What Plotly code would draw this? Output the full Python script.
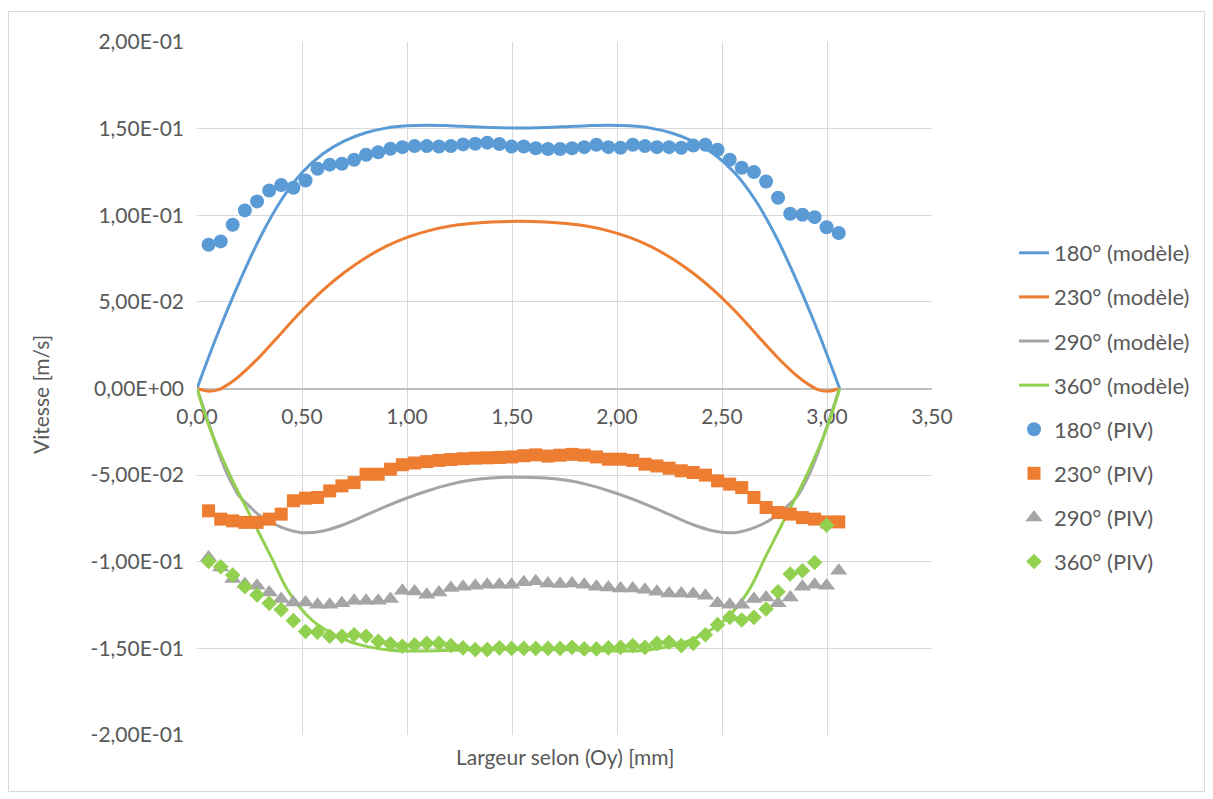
import plotly.graph_objects as go

# ---------------- data ----------------
x_piv = [0.055, 0.113, 0.170, 0.228, 0.286, 0.344, 0.401, 0.459, 0.517, 0.574,
         0.632, 0.690, 0.748, 0.805, 0.863, 0.921, 0.978, 1.036, 1.094, 1.152,
         1.209, 1.267, 1.325, 1.382, 1.440, 1.498, 1.556, 1.613, 1.671, 1.729,
         1.786, 1.844, 1.902, 1.959, 2.017, 2.075, 2.133, 2.190, 2.248, 2.306,
         2.363, 2.421, 2.479, 2.537, 2.594, 2.652, 2.710, 2.767, 2.825, 2.883,
         2.941, 2.998, 3.056]

piv_180 = [0.0830, 0.0849, 0.0945, 0.1028, 0.1080, 0.1143, 0.1174, 0.1159, 0.1201, 0.1268,
           0.1292, 0.1297, 0.1320, 0.1349, 0.1364, 0.1384, 0.1393, 0.1399, 0.1399, 0.1397,
           0.1399, 0.1409, 0.1413, 0.1419, 0.1411, 0.1397, 0.1397, 0.1387, 0.1382, 0.1382,
           0.1387, 0.1393, 0.1407, 0.1393, 0.1390, 0.1407, 0.1399, 0.1393, 0.1393, 0.1390,
           0.1403, 0.1407, 0.1378, 0.1320, 0.1274, 0.1249, 0.1195, 0.1101, 0.1009, 0.1003,
           0.0989, 0.0931, 0.0897]

piv_230 = [-0.0706, -0.0754, -0.0764, -0.0773, -0.0773, -0.0754, -0.0725, -0.0648, -0.0633, -0.0629,
           -0.0591, -0.0562, -0.0543, -0.0495, -0.0495, -0.0466, -0.0440, -0.0430, -0.0422, -0.0415,
           -0.0410, -0.0405, -0.0402, -0.0400, -0.0398, -0.0395, -0.0388, -0.0383, -0.0390, -0.0385,
           -0.0380, -0.0385, -0.0395, -0.0408, -0.0408, -0.0415, -0.0437, -0.0447, -0.0460, -0.0475,
           -0.0485, -0.0500, -0.0533, -0.0552, -0.0572, -0.0629, -0.0687, -0.0716, -0.0725, -0.0745,
           -0.0754, -0.0770, -0.0770]

piv_290 = [-0.0975, -0.1033, -0.1100, -0.1129, -0.1138, -0.1177, -0.1215, -0.1235, -0.1235, -0.1248,
           -0.1248, -0.1240, -0.1225, -0.1225, -0.1225, -0.1215, -0.1167, -0.1171, -0.1190, -0.1177,
           -0.1152, -0.1144, -0.1138, -0.1133, -0.1133, -0.1133, -0.1119, -0.1113, -0.1125, -0.1129,
           -0.1125, -0.1133, -0.1144, -0.1148, -0.1154, -0.1154, -0.1161, -0.1173, -0.1183, -0.1183,
           -0.1186, -0.1196, -0.1240, -0.1248, -0.1248, -0.1215, -0.1206, -0.1240, -0.1206, -0.1144,
           -0.1133, -0.1138, -0.1052]

x_piv_360 = x_piv[:52]
piv_360 = [-0.0998, -0.1029, -0.1077, -0.1144, -0.1192, -0.1240, -0.1277, -0.1340, -0.1403, -0.1407,
           -0.1430, -0.1430, -0.1421, -0.1430, -0.1459, -0.1474, -0.1488, -0.1480, -0.1471, -0.1471,
           -0.1484, -0.1497, -0.1507, -0.1507, -0.1497, -0.1500, -0.1500, -0.1500, -0.1500, -0.1500,
           -0.1494, -0.1503, -0.1503, -0.1497, -0.1494, -0.1484, -0.1494, -0.1471, -0.1465, -0.1484,
           -0.1471, -0.1421, -0.1363, -0.1321, -0.1336, -0.1321, -0.1273, -0.1173, -0.1071, -0.1052,
           -0.1004, -0.0789]

x_mod_180 = [0, 0.1, 0.2, 0.3, 0.4, 0.5, 0.6, 0.7, 0.8, 0.9, 1.0, 1.1, 1.2, 1.3, 1.4, 1.53,
             1.66, 1.76, 1.86, 1.96, 2.06, 2.16, 2.26, 2.36, 2.46, 2.56, 2.66, 2.76, 2.86, 2.96, 3.06]
mod_180 = [0, 0.032, 0.061, 0.087, 0.1085, 0.1245, 0.1355, 0.1428, 0.1475, 0.1503, 0.1516,
           0.1520, 0.1517, 0.1511, 0.1506, 0.1503, 0.1506, 0.1511, 0.1517, 0.1520, 0.1516,
           0.1503, 0.1475, 0.1428, 0.1355, 0.1245, 0.1085, 0.087, 0.061, 0.032, 0]

x_mod_230 = [0, 0.05, 0.1, 0.15, 0.2, 0.3, 0.4, 0.5, 0.6, 0.7, 0.8, 0.9, 1.0, 1.1, 1.2, 1.3, 1.4,
             1.53, 1.66, 1.76, 1.86, 1.96, 2.06, 2.16, 2.26, 2.36, 2.46, 2.56, 2.66, 2.76, 2.86,
             2.91, 2.96, 3.01, 3.06]
mod_230 = [0, -0.0015, -0.0008, 0.0025, 0.0070, 0.0185, 0.0318, 0.0450, 0.0568, 0.0668, 0.0752,
           0.0820, 0.0872, 0.0910, 0.0936, 0.0952, 0.0961, 0.0965, 0.0961, 0.0952, 0.0936, 0.0910,
           0.0872, 0.0820, 0.0752, 0.0668, 0.0568, 0.0450, 0.0318, 0.0185, 0.0070, 0.0025,
           -0.0008, -0.0015, 0]

x_mod_290 = [0, 0.05, 0.1, 0.15, 0.2, 0.25, 0.3, 0.4, 0.5, 0.6, 0.7, 0.8, 0.9, 1.0, 1.1, 1.2, 1.3,
             1.4, 1.53, 1.66, 1.76, 1.86, 1.96, 2.06, 2.16, 2.26, 2.36, 2.46, 2.56, 2.66, 2.76,
             2.81, 2.86, 2.91, 2.96, 3.01, 3.06]
mod_290 = [0, -0.018, -0.036, -0.051, -0.062, -0.068, -0.0735, -0.0800, -0.0832, -0.0822, -0.0785,
           -0.0733, -0.0680, -0.0632, -0.0590, -0.0555, -0.0530, -0.0517, -0.0512, -0.0517, -0.0530,
           -0.0555, -0.0590, -0.0632, -0.0680, -0.0733, -0.0785, -0.0822, -0.0832, -0.0800, -0.0735,
           -0.068, -0.062, -0.051, -0.036, -0.018, 0]

x_mod_360 = [0, 0.06, 0.155, 0.25, 0.35, 0.44, 0.55, 0.68, 0.79, 0.95, 1.1, 1.3, 1.53, 1.76,
             1.96, 2.11, 2.27, 2.38, 2.51, 2.62, 2.71, 2.81, 2.905, 3.0, 3.06]
mod_360 = [0, -0.0226, -0.0495, -0.0725, -0.0965, -0.1180, -0.1340, -0.1436, -0.1484, -0.1513,
           -0.1515, -0.1508, -0.1505, -0.1508, -0.1515, -0.1513, -0.1484, -0.1436, -0.1340,
           -0.1180, -0.0965, -0.0725, -0.0495, -0.0226, 0]

x_tickvals = [0, 0.5, 1.0, 1.5, 2.0, 2.5, 3.0, 3.5]
x_ticktext = ["0,00", "0,50", "1,00", "1,50", "2,00", "2,50", "3,00", "3,50"]
y_tickvals = [0.2, 0.15, 0.1, 0.05, 0, -0.05, -0.1, -0.15, -0.2]
y_ticktext = ["2,00E-01", "1,50E-01", "1,00E-01", "5,00E-02", "0,00E+00",
              "-5,00E-02", "-1,00E-01", "-1,50E-01", "-2,00E-01"]

names = ["180° (modèle)", "230° (modèle)", "290° (modèle)", "360° (modèle)",
         "180° (PIV)", "230° (PIV)", "290° (PIV)", "360° (PIV)"]

# ---------------- style ----------------
BLUE, ORANGE, GREY, GREEN = "#5B9BD5", "#ED7D31", "#A5A5A5", "#92D050"
TXT = "#595959"
FONT = "Lato"
FS = 21

fig = go.Figure()
for i, (xx, yy, c) in enumerate([(x_mod_180, mod_180, BLUE), (x_mod_230, mod_230, ORANGE),
                                  (x_mod_290, mod_290, GREY), (x_mod_360, mod_360, GREEN)]):
    fig.add_trace(go.Scatter(x=xx, y=yy, mode="lines", name=names[i], legendgroup=str(i),
                             line=dict(color=c, width=3, shape="spline", smoothing=1.0)))

for j, (xx, yy, c, sym, sz) in enumerate([(x_piv, piv_180, BLUE, "circle", 14),
                                          (x_piv, piv_230, ORANGE, "square", 13),
                                          (x_piv, piv_290, GREY, "triangle-up", 15),
                                          (x_piv_360, piv_360, GREEN, "diamond", 12)]):
    fig.add_trace(go.Scatter(x=xx, y=yy, mode="markers", name=names[4 + j],
                             legendgroup=str(4 + j),
                             marker=dict(color=c, symbol=sym, size=sz, line=dict(width=0))))

# plot area in screenshot pixels; the page body adds an 8px offset
OFF = 8
L, R, T, B = 197, 932, 42, 735
W, H = 1213 - OFF, 799 - OFF


def px(xp):
    return (xp - L) / (R - L)


def py(yp):
    return (B - yp) / (B - T)


fig.update_layout(
    width=W, height=H,
    margin=dict(l=L - OFF, r=W - (R - OFF), t=T - OFF, b=H - (B - OFF)),
    paper_bgcolor="white", plot_bgcolor="white",
    font=dict(family=FONT, size=FS, color=TXT),
    showlegend=True,
    legend=dict(x=px(1014), y=py(232), xanchor="left", yanchor="top",
                font=dict(family=FONT, size=22, color=TXT),
                tracegroupgap=12.5, bgcolor="rgba(0,0,0,0)"),
    xaxis=dict(range=[0, 3.5], tickvals=x_tickvals, ticktext=x_ticktext,
               showgrid=True, gridcolor="#d9d9d9", gridwidth=1.3,
               zeroline=False, anchor="free", position=0.5,
               showline=True, linecolor="#bfbfbf", linewidth=1.5,
               ticks="", ticklabelstandoff=10, layer="below traces",
               tickfont=dict(family=FONT, size=FS, color=TXT)),
    yaxis=dict(range=[-0.2, 0.2], tickvals=y_tickvals, ticktext=y_ticktext,
               showgrid=True, gridcolor="#d9d9d9", gridwidth=1.3,
               zeroline=False, showline=False, ticks="", ticklabelstandoff=12,
               layer="below traces",
               tickfont=dict(family=FONT, size=FS, color=TXT)),
    annotations=[
        dict(text="Largeur selon (Oy) [mm]", x=0.5, y=py(757), xref="paper", yref="paper",
             showarrow=False, xanchor="center", yanchor="middle",
             font=dict(family=FONT, size=FS, color=TXT)),
        dict(text="Vitesse [m/s]", x=px(40), y=py(395), xref="paper", yref="paper",
             showarrow=False, xanchor="center", yanchor="middle", textangle=-90,
             font=dict(family=FONT, size=FS, color=TXT)),
    ],
    shapes=[dict(type="rect", xref="paper", yref="paper",
                 x0=px(8.5), x1=px(1204.5), y0=py(791.5), y1=py(11.5),
                 line=dict(color="#d9d9d9", width=1), layer="below")],
)

fig.write_html("out.html")
